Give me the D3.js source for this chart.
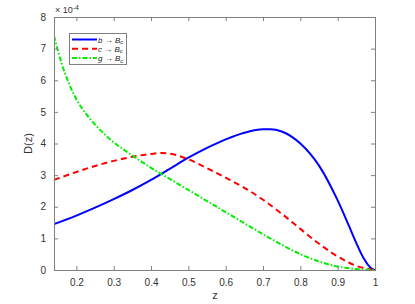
<!DOCTYPE html>
<html>
<head>
<meta charset="utf-8">
<script src="https://cdn.jsdelivr.net/npm/d3@7"></script>
<style>
  body { margin: 0; background: #fff; }
  text { font-family: "Liberation Sans", Arial, sans-serif; }
</style>
</head>
<body>
<svg id="chart" width="415" height="304"></svg>
<script>
// z values and D(z) curves (units of 1e-4)
const zB = [0.14, 0.2, 0.25, 0.3, 0.35, 0.4, 0.45, 0.5, 0.55, 0.6, 0.65, 0.7, 0.72, 0.75, 0.8, 0.85, 0.9, 0.93, 0.95, 0.97, 0.99, 1];
const bToBc = [1.45, 1.72, 1.97, 2.24, 2.53, 2.85, 3.2, 3.55, 3.86, 4.13, 4.34, 4.45, 4.45, 4.38, 4.0, 3.3, 2.2, 1.4, 0.85, 0.36, 0.05, 0];

const zC = [0.14, 0.2, 0.25, 0.3, 0.35, 0.4, 0.43, 0.45, 0.5, 0.55, 0.6, 0.65, 0.7, 0.75, 0.8, 0.85, 0.9, 0.95, 1];
const cToBc = [2.85, 3.1, 3.29, 3.45, 3.58, 3.67, 3.7, 3.68, 3.5, 3.22, 2.92, 2.6, 2.22, 1.78, 1.3, 0.83, 0.43, 0.13, 0];

const zG = [0.14, 0.16, 0.18, 0.2, 0.225, 0.25, 0.3, 0.35, 0.4, 0.45, 0.5, 0.55, 0.6, 0.65, 0.7, 0.75, 0.8, 0.85, 0.9, 0.95, 1];
const gToBc = [7.4, 6.55, 5.9, 5.4, 4.95, 4.6, 4.04, 3.62, 3.23, 2.88, 2.53, 2.18, 1.83, 1.48, 1.13, 0.8, 0.5, 0.27, 0.11, 0.03, 0];

const xTicks = [0.2, 0.3, 0.4, 0.5, 0.6, 0.7, 0.8, 0.9, 1];
const yTicks = [0, 1, 2, 3, 4, 5, 6, 7, 8];

const seriesList = [
  { name: "b", z: zB, d: bToBc, color: "#0000ff", dash: null },
  { name: "c", z: zC, d: cToBc, color: "#ff0000", dash: "6,4" },
  { name: "g", z: zG, d: gToBc, color: "#00ee00", dash: "5,2,1.5,2" }
];

const margin = { top: 17, right: 40, bottom: 34, left: 54 };
const width = 415 - margin.left - margin.right;
const height = 304 - margin.top - margin.bottom;

const svg = d3.select("#chart");
const g = svg.append("g")
  .attr("transform", "translate(" + margin.left + "," + margin.top + ")");

const xScale = d3.scaleLinear().domain([0.14, 1]).range([0, width]);
const yScale = d3.scaleLinear().domain([0, 8]).range([height, 0]);

const axisColor = "#808080";
const textColor = "#333";

// curves
const line = d3.line()
  .x(d => xScale(d[0]))
  .y(d => yScale(d[1]))
  .curve(d3.curveMonotoneX);

g.append("defs").append("clipPath").attr("id", "clip")
  .append("rect").attr("width", width).attr("height", height);

seriesList.forEach(s => {
  g.append("path")
    .datum(s.z.map((z, i) => [z, s.d[i]]))
    .attr("clip-path", "url(#clip)")
    .attr("d", line)
    .attr("fill", "none")
    .attr("stroke", s.color)
    .attr("stroke-width", 2)
    .attr("stroke-dasharray", s.dash);
});

// axes (ticks inside, box on)
const fmtX = d => d === 1 ? "1" : d3.format(".1f")(d);
const styleAxis = sel => {
  sel.select(".domain").remove();
  sel.selectAll("line").attr("stroke", axisColor);
  sel.selectAll("text").attr("fill", textColor).attr("font-size", 10);
};

g.append("g")
  .attr("transform", "translate(0," + height + ")")
  .call(d3.axisBottom(xScale).tickValues(xTicks).tickFormat(fmtX).tickSize(-4).tickPadding(9))
  .call(styleAxis);

g.append("g")
  .call(d3.axisTop(xScale).tickValues(xTicks).tickFormat("").tickSize(-4))
  .call(styleAxis);

g.append("g")
  .call(d3.axisLeft(yScale).tickValues(yTicks).tickFormat(d3.format("d")).tickSize(-4).tickPadding(8))
  .call(styleAxis);

g.append("g")
  .attr("transform", "translate(" + width + ",0)")
  .call(d3.axisRight(yScale).tickValues(yTicks).tickFormat("").tickSize(-4))
  .call(styleAxis);

g.append("rect")
  .attr("x", 0.5).attr("y", 0.5)
  .attr("width", width).attr("height", height)
  .attr("fill", "none")
  .attr("stroke", axisColor);

// exponent label
const expo = g.append("text")
  .attr("x", 1).attr("y", -4)
  .attr("fill", textColor)
  .attr("font-size", 9);
expo.append("tspan").text("\u00d7 10");
expo.append("tspan").attr("dy", -3).attr("font-size", 7).text("-4");

// axis titles
svg.append("text")
  .attr("x", margin.left + width / 2 + 0.5)
  .attr("y", 299)
  .attr("text-anchor", "middle")
  .attr("fill", textColor)
  .attr("font-size", 11)
  .text("z");

svg.append("text")
  .attr("transform", "translate(32," + (margin.top + height / 2) + ") rotate(-90)")
  .attr("text-anchor", "middle")
  .attr("fill", textColor)
  .attr("font-size", 11)
  .text("D(z)");

// legend
const leg = svg.append("g").attr("transform", "translate(69,33)");
leg.append("rect")
  .attr("x", 0.5).attr("y", 0.5)
  .attr("width", 57).attr("height", 31)
  .attr("fill", "#fff")
  .attr("stroke", axisColor);

seriesList.forEach((s, i) => {
  const row = leg.append("g").attr("transform", "translate(0," + (6.5 + i * 9.3) + ")");
  row.append("line")
    .attr("x1", 3).attr("x2", 28)
    .attr("stroke", s.color)
    .attr("stroke-width", 2)
    .attr("stroke-dasharray", s.dash);
  const t = row.append("text")
    .attr("x", 29).attr("y", 3)
    .attr("font-family", "'DejaVu Serif', 'Liberation Serif', serif")
    .attr("font-size", 8)
    .attr("fill", "#222");
  t.append("tspan").attr("font-style", "italic").text(s.name);
  t.append("tspan").text(" \u2192 ");
  t.append("tspan").attr("font-style", "italic").text("B");
  t.append("tspan").attr("font-style", "italic").attr("font-size", 6).attr("dy", 1.5).text("c");
});
</script>
</body>
</html>
